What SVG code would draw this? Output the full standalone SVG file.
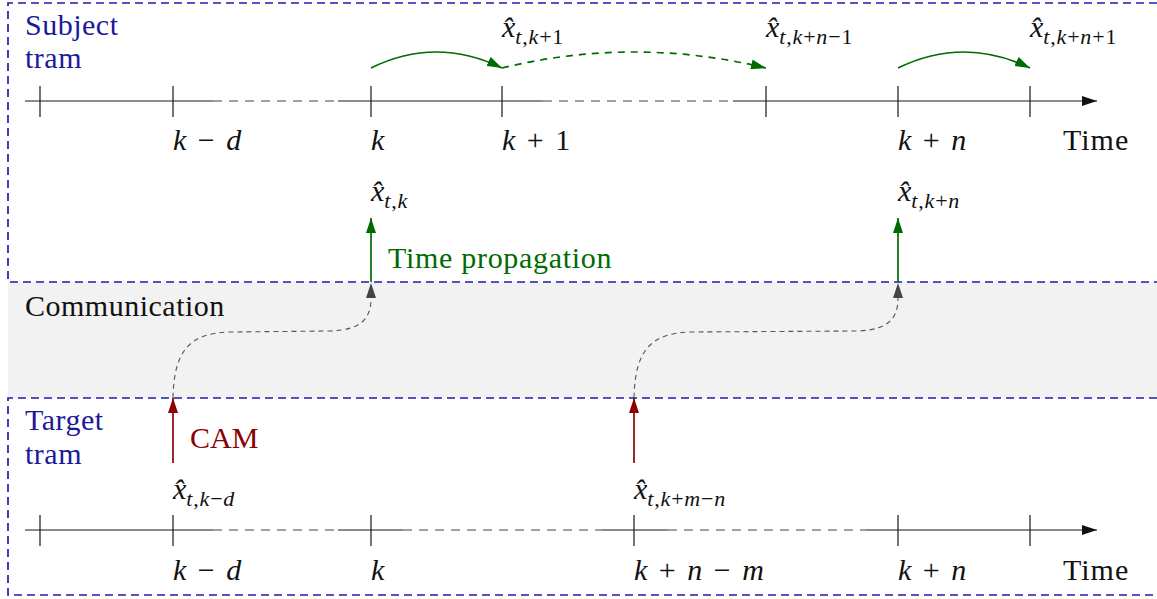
<svg xmlns="http://www.w3.org/2000/svg" width="1157" height="599" viewBox="0 0 1157 599">
<style>
.lane{fill:none;stroke:#1e1eaa;stroke-width:1.7;stroke-dasharray:8 5}
.tl{fill:none;stroke:#1a1a1a;stroke-width:1.2}
.tld{fill:none;stroke:#444;stroke-width:1.2;stroke-dasharray:9 7}
.tick{stroke:#1a1a1a;stroke-width:1.2}
.g{fill:none;stroke:#006b00;stroke-width:1.7}
.gd{fill:none;stroke:#006b00;stroke-width:1.7;stroke-dasharray:7 6}
.r{fill:none;stroke:#8b0000;stroke-width:1.7}
.gr{fill:none;stroke:#555;stroke-width:1.1;stroke-dasharray:5 4}
.t{font-family:'Liberation Serif','Times New Roman',serif;font-size:30px;fill:#111}
.w{letter-spacing:0.5px}
.m{word-spacing:4px}
.i{font-style:italic}
.s{font-size:22px;letter-spacing:0.8px}
.blue{fill:#1a1a9a}
.green{fill:#006b00}
.red{fill:#8b0000}
</style>
<defs>
<marker id="ag" viewBox="0 0 15 10" refX="15" refY="5" markerWidth="15" markerHeight="10" markerUnits="userSpaceOnUse" orient="auto"><path d="M0,0 L15,5 L0,10 z" fill="#006b00"/></marker>
<marker id="ar" viewBox="0 0 15 10" refX="15" refY="5" markerWidth="15" markerHeight="10" markerUnits="userSpaceOnUse" orient="auto"><path d="M0,0 L15,5 L0,10 z" fill="#8b0000"/></marker>
<marker id="ak" viewBox="0 0 15 10" refX="15" refY="5" markerWidth="15" markerHeight="10" markerUnits="userSpaceOnUse" orient="auto"><path d="M0,0 L15,5 L0,10 z" fill="#111"/></marker>
</defs>

<g id="lanes">
<rect x="8" y="282" width="1149" height="116" fill="#f2f2f2"/>
<path class="lane" d="M1157,3 H8 V282 H1157"/>
<path class="lane" d="M1157,398 H8 V595 H1157"/>
</g>

<g id="labels">
<text id="lbl-subject" class="t w blue" x="25" y="35">Subject</text>
<text class="t w blue" x="25" y="68">tram</text>
<text id="lbl-comm" class="t w" x="25" y="316">Communication</text>
<text id="lbl-target" class="t w blue" x="25" y="430">Target</text>
<text class="t w blue" x="25" y="464">tram</text>
</g>

<g id="subject-timeline">
<path class="tl" d="M25,101 H213 M338,101 H543 M733,101 H1097" marker-end="url(#ak)"/>
<path class="tld" d="M213,101 H338 M543,101 H733"/>
<path class="tick" d="M40,86 V117 M173,86 V117 M371,86 V117 M502,86 V117 M766,86 V117 M898,86 V117 M1030,86 V117"/>
<text class="t m" x="173" y="150"><tspan class="i">k</tspan> − <tspan class="i">d</tspan></text>
<text class="t i" x="371" y="150">k</text>
<text class="t m" x="502" y="150"><tspan class="i">k</tspan> + 1</text>
<text class="t m" x="898" y="150"><tspan class="i">k</tspan> + <tspan class="i">n</tspan></text>
<text class="t" x="1063" y="150" letter-spacing="1">Time</text>
</g>

<g id="target-timeline">
<path class="tl" d="M25,530 H213 M338,530 H403 M602,530 H668 M866,530 H1097" marker-end="url(#ak)"/>
<path class="tld" d="M213,530 H338 M403,530 H602 M668,530 H866"/>
<path class="tick" d="M40,515 V546 M173,515 V546 M371,515 V546 M634,515 V546 M898,515 V546 M1030,515 V546"/>
<text class="t m" x="173" y="580"><tspan class="i">k</tspan> − <tspan class="i">d</tspan></text>
<text class="t i" x="371" y="580">k</text>
<text class="t m" x="634" y="580"><tspan class="i">k</tspan> + <tspan class="i">n</tspan> − <tspan class="i">m</tspan></text>
<text class="t m" x="898" y="580"><tspan class="i">k</tspan> + <tspan class="i">n</tspan></text>
<text class="t" x="1063" y="580" letter-spacing="1">Time</text>
</g>

<g id="estimates">
<text class="t" x="502" y="37"><tspan class="i">x̂</tspan><tspan class="s" dy="7"><tspan class="i">t</tspan>,<tspan class="i">k</tspan>+1</tspan></text>
<text class="t" x="766" y="37"><tspan class="i">x̂</tspan><tspan class="s" dy="7"><tspan class="i">t</tspan>,<tspan class="i">k</tspan>+<tspan class="i">n</tspan>−1</tspan></text>
<text class="t" x="1030" y="37"><tspan class="i">x̂</tspan><tspan class="s" dy="7"><tspan class="i">t</tspan>,<tspan class="i">k</tspan>+<tspan class="i">n</tspan>+1</tspan></text>
<text class="t" x="371" y="201"><tspan class="i">x̂</tspan><tspan class="s" dy="7"><tspan class="i">t</tspan>,<tspan class="i">k</tspan></tspan></text>
<text class="t" x="898" y="201"><tspan class="i">x̂</tspan><tspan class="s" dy="7"><tspan class="i">t</tspan>,<tspan class="i">k</tspan>+<tspan class="i">n</tspan></tspan></text>
<text class="t" x="173" y="499"><tspan class="i">x̂</tspan><tspan class="s" dy="7"><tspan class="i">t</tspan>,<tspan class="i">k</tspan>−<tspan class="i">d</tspan></tspan></text>
<text class="t" x="634" y="499"><tspan class="i">x̂</tspan><tspan class="s" dy="7"><tspan class="i">t</tspan>,<tspan class="i">k</tspan>+<tspan class="i">m</tspan>−<tspan class="i">n</tspan></tspan></text>
<text class="t green" x="388" y="268" letter-spacing="0.7">Time propagation</text>
<text class="t red" x="190" y="448">CAM</text>
</g>

<g id="connectors">
<path class="g" d="M371,68 Q436,36 502,68" marker-end="url(#ag)"/>
<path class="gd" d="M502,68 Q634,36 766,68" marker-end="url(#ag)"/>
<path class="g" d="M898,68 Q964,36 1030,68" marker-end="url(#ag)"/>
<path class="g" d="M371,282 V218" marker-end="url(#ag)"/>
<path class="g" d="M898,282 V218" marker-end="url(#ag)"/>
<path class="gr" d="M173,398 C174,350 190,333 230,332 L330,331 C362,330 371,318 371,298"/>
<path class="gr" d="M634,398 C635,350 651,333 691,332 L857,331 C889,330 898,318 898,298"/>
<path d="M371,283 L376,298 L366,298 z" fill="#444"/>
<path d="M898,283 L903,298 L893,298 z" fill="#444"/>
<path class="r" d="M173,463 V398" marker-end="url(#ar)"/>
<path class="r" d="M634,463 V398" marker-end="url(#ar)"/>
</g>
</svg>
